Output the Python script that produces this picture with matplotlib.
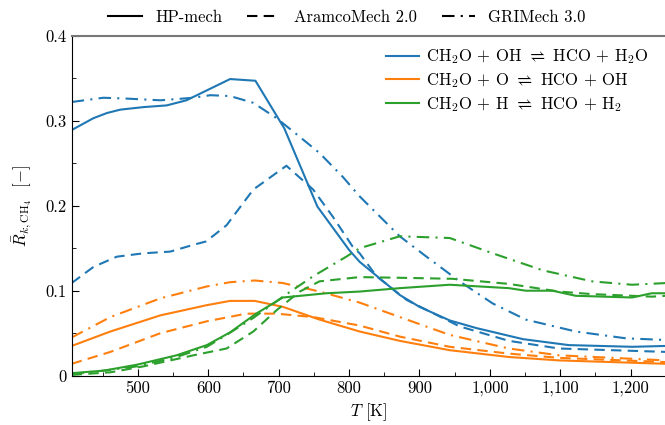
import matplotlib
matplotlib.use('Agg')
import matplotlib.pyplot as plt
from matplotlib.lines import Line2D
from matplotlib.ticker import MultipleLocator, FuncFormatter

plt.rcParams['font.family'] = 'serif'
plt.rcParams['font.serif'] = ['cmr10']
plt.rcParams['mathtext.fontset'] = 'cm'
plt.rcParams['axes.formatter.use_mathtext'] = True

# CH2O + OH <=> HCO + H2O
T_oh_hp = [406, 437, 456, 475, 508, 541, 569, 631, 667, 708, 755, 800, 815, 872, 900, 943, 981, 1047, 1112, 1202, 1250]
R_oh_hp = [0.289, 0.303, 0.309, 0.313, 0.316, 0.318, 0.324, 0.349, 0.347, 0.291, 0.199, 0.148, 0.134, 0.095, 0.081, 0.065, 0.056, 0.043, 0.036, 0.034, 0.035]
T_oh_ar = [406, 437, 470, 508, 546, 579, 597, 626, 635, 664, 711, 749, 777, 805, 815, 839, 882, 957, 1027, 1098, 1250]
R_oh_ar = [0.109, 0.128, 0.140, 0.144, 0.146, 0.154, 0.158, 0.177, 0.187, 0.219, 0.247, 0.219, 0.187, 0.152, 0.144, 0.117, 0.089, 0.058, 0.041, 0.032, 0.028]
T_oh_gri = [406, 451, 484, 532, 579, 603, 631, 664, 697, 730, 758, 791, 815, 872, 910, 957, 1004, 1051, 1122, 1193, 1250]
R_oh_gri = [0.322, 0.327, 0.326, 0.324, 0.327, 0.330, 0.329, 0.321, 0.303, 0.281, 0.262, 0.234, 0.211, 0.164, 0.140, 0.111, 0.085, 0.066, 0.052, 0.044, 0.042]

# CH2O + O <=> HCO + OH
T_o_hp = [406, 461, 532, 598, 631, 666, 706, 758, 815, 872, 943, 1027, 1098, 1250]
R_o_hp = [0.035, 0.052, 0.071, 0.083, 0.088, 0.088, 0.081, 0.066, 0.052, 0.041, 0.030, 0.022, 0.018, 0.014]
T_o_ar = [406, 461, 532, 598, 654, 697, 749, 815, 872, 943, 1027, 1098, 1250]
R_o_ar = [0.014, 0.028, 0.050, 0.064, 0.073, 0.073, 0.069, 0.059, 0.046, 0.034, 0.026, 0.021, 0.016]
T_o_gri = [406, 461, 532, 598, 631, 666, 706, 758, 815, 872, 943, 1027, 1098, 1250]
R_o_gri = [0.045, 0.069, 0.091, 0.105, 0.110, 0.112, 0.109, 0.099, 0.086, 0.069, 0.048, 0.032, 0.024, 0.018]

# CH2O + H <=> HCO + H2
T_h_hp = [406, 452, 499, 555, 598, 631, 668, 706, 768, 815, 872, 943, 1027, 1051, 1089, 1122, 1202, 1230, 1250]
R_h_hp = [0.003, 0.006, 0.013, 0.024, 0.036, 0.051, 0.073, 0.092, 0.097, 0.099, 0.103, 0.107, 0.103, 0.100, 0.100, 0.094, 0.092, 0.097, 0.097]
T_h_ar = [406, 461, 508, 579, 626, 664, 697, 730, 758, 815, 886, 947, 1027, 1098, 1145, 1230, 1250]
R_h_ar = [0.001, 0.004, 0.011, 0.024, 0.032, 0.052, 0.077, 0.099, 0.111, 0.116, 0.115, 0.114, 0.108, 0.099, 0.096, 0.093, 0.094]
T_h_gri = [406, 452, 499, 555, 598, 626, 664, 706, 749, 796, 815, 872, 943, 1004, 1075, 1145, 1202, 1250]
R_h_gri = [0.002, 0.006, 0.011, 0.022, 0.034, 0.048, 0.068, 0.093, 0.117, 0.140, 0.150, 0.164, 0.162, 0.144, 0.124, 0.111, 0.107, 0.109]

colors = ['#1f77b4', '#ff7f0e', '#2ca02c']
labels = [r'CH$_2$O + OH $\rightleftharpoons$ HCO + H$_2$O',
          r'CH$_2$O + O $\rightleftharpoons$ HCO + OH',
          r'CH$_2$O + H $\rightleftharpoons$ HCO + H$_2$']

fig = plt.figure(figsize=(6.65, 4.25), dpi=100)
ax = fig.add_axes([0.1078, 0.116, 0.8935, 0.8])

series = [(T_oh_hp, R_oh_hp, T_oh_ar, R_oh_ar, T_oh_gri, R_oh_gri),
          (T_o_hp, R_o_hp, T_o_ar, R_o_ar, T_o_gri, R_o_gri),
          (T_h_hp, R_h_hp, T_h_ar, R_h_ar, T_h_gri, R_h_gri)]
for c, s in zip(colors, series):
    ax.plot(s[0], s[1], color=c, lw=1.5, ls='-')
    ax.plot(s[2], s[3], color=c, lw=1.5, ls=(0, (5, 3)))
    ax.plot(s[4], s[5], color=c, lw=1.5, ls=(0, (6, 3, 1, 3)))

ax.set_xlim(406, 1250)
ax.set_ylim(0, 0.4)
ax.xaxis.set_major_locator(MultipleLocator(100))
ax.xaxis.set_minor_locator(MultipleLocator(50))
ax.yaxis.set_major_locator(MultipleLocator(0.1))
ax.yaxis.set_minor_locator(MultipleLocator(0.05))
ax.xaxis.set_major_formatter(FuncFormatter(lambda v, p: '{:,.0f}'.format(v)))
ax.yaxis.set_major_formatter(FuncFormatter(lambda v, p: '0' if v == 0 else '%.1f' % v))
ax.tick_params(which='both', direction='in', top=False, right=False, labelsize=12)
ax.tick_params(which='major', length=5)
ax.tick_params(which='minor', length=3)
ax.spines['right'].set_visible(False)
ax.spines['top'].set_color('#777777')
ax.spines['top'].set_linewidth(1.5)

ax.set_xlabel(r'$T$ [K]', fontsize=12)
ax.set_ylabel(r'$\bar{R}_{k,\mathrm{CH_4}}$  $[-]$', fontsize=12, labelpad=8)

handles = [Line2D([], [], color=c, lw=1.5) for c in colors]
ax.legend(handles, labels, loc='upper right', frameon=False, fontsize=12,
          handlelength=2.0, handletextpad=0.4, labelspacing=0.3,
          borderaxespad=0.3, bbox_to_anchor=(0.99, 1.0))

style_handles = [Line2D([], [], color='black', lw=1.5, ls='-'),
                 Line2D([], [], color='black', lw=1.5, ls=(0, (5, 3))),
                 Line2D([], [], color='black', lw=1.5, ls=(0, (6, 3, 1, 3)))]
fig.legend(style_handles, ['HP-mech', 'AramcoMech 2.0', 'GRIMech 3.0'],
           loc='center', bbox_to_anchor=(347 / 665, 1 - 17 / 425), ncol=3,
           frameon=False, fontsize=12, handlelength=2.0, columnspacing=1.5)

fig.savefig('out.png', dpi=100)
